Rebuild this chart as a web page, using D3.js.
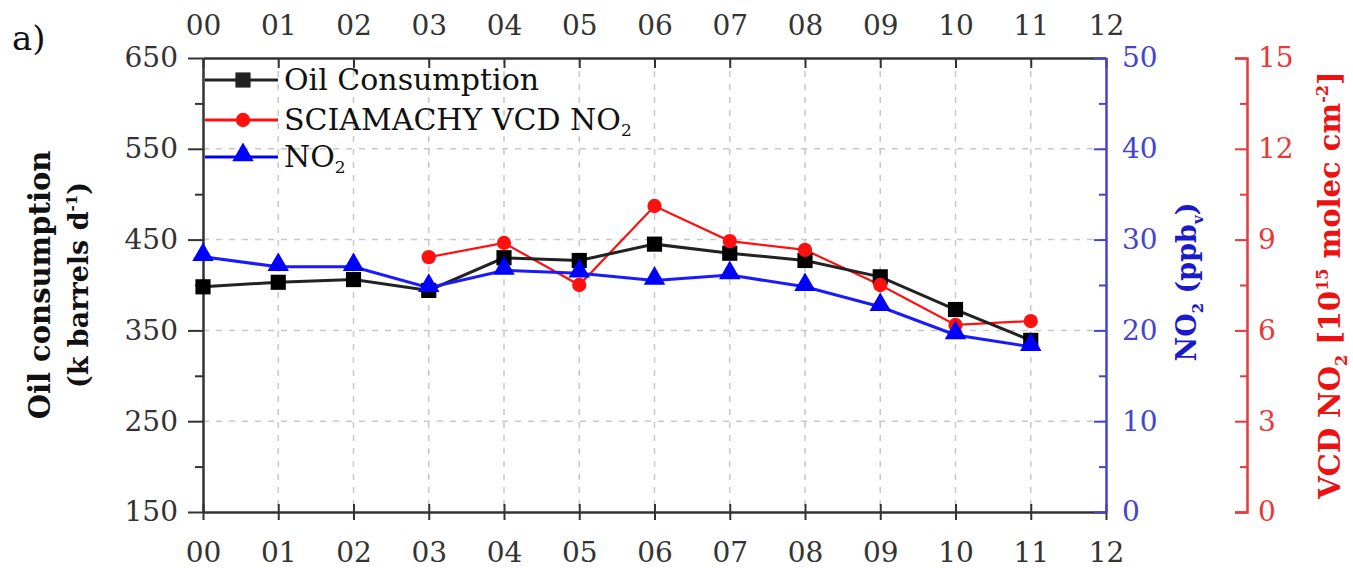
<!DOCTYPE html>
<html>
<head>
<meta charset="utf-8">
<script src="https://cdn.jsdelivr.net/npm/d3@7"></script>
<style>
  body { margin: 0; background: #fff; }
  svg text { font-family: "DejaVu Serif", serif; }
</style>
</head>
<body>
<svg id="chart" width="1353" height="568"></svg>
<script>
// data (year 2000 = 0)
var years = [0, 1, 2, 3, 4, 5, 6, 7, 8, 9, 10, 11];
var oil = [398, 403, 406, 394, 430, 427, 445, 435, 427, 409, 373, 339];
var no2 = [28.1, 27.0, 27.0, 24.7, 26.6, 26.3, 25.5, 26.1, 24.8, 22.6, 19.5, 18.2];
var vcdYears = [3, 4, 5, 6, 7, 8, 9, 10, 11];
var vcd = [8.42, 8.89, 7.50, 10.11, 8.95, 8.66, 7.50, 6.18, 6.31];

var xTicks = d3.range(0, 13);
var oilTicks = [150, 250, 350, 450, 550, 650];
var no2Ticks = [0, 10, 20, 30, 40, 50];
var vcdTicks = [0, 3, 6, 9, 12, 15];

var svg = d3.select("#chart");
var pL = 203, pR = 1106, pT = 58, pB = 512;
var redX = 1247;
var fs = 28;

var blk = "#222", blue = "#0000ff", red = "#ff1010";
var blueAx = "#4444cc", redAx = "#e83838";

// scales
var x = d3.scaleLinear().domain([0, 12]).range([pL, pR]);
var yOil = d3.scaleLinear().domain([150, 650]).range([pB, pT]);
var yNo2 = d3.scaleLinear().domain([0, 50]).range([pB, pT]);
var yVcd = d3.scaleLinear().domain([0, 15]).range([pB, pT]);

// grid
var grid = svg.append("g").attr("stroke", "#c8c8c8").attr("stroke-width", 1.5).attr("stroke-dasharray", "6,7");
grid.selectAll("line.v").data(xTicks.slice(1, 12)).enter().append("line")
  .attr("x1", d => x(d)).attr("x2", d => x(d)).attr("y1", pT).attr("y2", pB);
grid.selectAll("line.h").data(oilTicks.slice(1, 5)).enter().append("line")
  .attr("x1", pL).attr("x2", pR).attr("y1", d => yOil(d)).attr("y2", d => yOil(d));

function styleAxis(g, col) {
  g.select(".domain").attr("stroke", col).attr("stroke-width", 2.5);
  g.selectAll(".tick line").attr("stroke", col).attr("stroke-width", 2);
  g.selectAll(".tick text").attr("fill", col).style("font-size", fs + "px").style("font-family", "DejaVu Serif");
}
var fmt2 = d3.format("02d");

// left axis
var gl = svg.append("g").attr("transform", "translate(" + pL + ",0)");
gl.call(d3.axisLeft(yOil).tickValues(d3.range(200, 650, 100)).tickSize(8).tickFormat(""));
gl.select(".domain").remove();
var gl2 = svg.append("g").attr("transform", "translate(" + pL + ",0)")
  .call(d3.axisLeft(yOil).tickValues(oilTicks).tickSizeInner(15).tickSizeOuter(0).tickPadding(10));
styleAxis(gl, "#333"); styleAxis(gl2, "#333");

// bottom axis (ticks cross the line)
var gb = svg.append("g").attr("transform", "translate(0," + pB + ")")
  .call(d3.axisBottom(x).tickValues(xTicks).tickSizeInner(8).tickSizeOuter(0).tickPadding(22).tickFormat(fmt2));
gb.selectAll(".tick line").attr("y1", -8);
styleAxis(gb, "#333");

// top axis (ticks inward)
var gt = svg.append("g").attr("transform", "translate(0," + pT + ")")
  .call(d3.axisTop(x).tickValues(xTicks).tickSizeInner(-10).tickSizeOuter(0).tickPadding(23).tickFormat(fmt2));
styleAxis(gt, "#333");

// NO2 axis (blue) on the right edge of the plot
var gn = svg.append("g").attr("transform", "translate(" + pR + ",0)");
gn.call(d3.axisRight(yNo2).tickValues(d3.range(5, 50, 10)).tickSize(-7).tickFormat(""));
gn.select(".domain").remove();
var gn2 = svg.append("g").attr("transform", "translate(" + pR + ",0)")
  .call(d3.axisRight(yNo2).tickValues(no2Ticks).tickSizeInner(-12).tickSizeOuter(0).tickPadding(16));
styleAxis(gn, blueAx); styleAxis(gn2, blueAx);

// VCD axis (red), offset
var gv = svg.append("g").attr("transform", "translate(" + redX + ",0)");
gv.call(d3.axisRight(yVcd).tickValues(d3.range(1.5, 15, 3)).tickSize(-7).tickFormat(""));
gv.select(".domain").remove();
var gv2 = svg.append("g").attr("transform", "translate(" + redX + ",0)")
  .call(d3.axisRight(yVcd).tickValues(vcdTicks).tickSizeInner(-12).tickSizeOuter(-12).tickPadding(11));
styleAxis(gv, redAx); styleAxis(gv2, redAx);

// series
var lineOil = d3.line().x((d, i) => x(years[i])).y(d => yOil(d));
var lineNo2 = d3.line().x((d, i) => x(years[i])).y(d => yNo2(d));
var lineVcd = d3.line().x((d, i) => x(vcdYears[i])).y(d => yVcd(d));

svg.append("path").datum(vcd).attr("d", lineVcd).attr("fill", "none").attr("stroke", red).attr("stroke-width", 2.2);
svg.append("path").datum(oil).attr("d", lineOil).attr("fill", "none").attr("stroke", blk).attr("stroke-width", 3);
svg.append("path").datum(no2).attr("d", lineNo2).attr("fill", "none").attr("stroke", "#1a1aff").attr("stroke-width", 3);

var sq = d3.symbol().type(d3.symbolSquare).size(230);
var ci = d3.symbol().type(d3.symbolCircle).size(160);
var tr = d3.symbol().type(d3.symbolTriangle).size(200);

svg.selectAll("path.oil").data(oil).enter().append("path").attr("class", "oil")
  .attr("d", sq).attr("fill", "#000")
  .attr("transform", (d, i) => "translate(" + x(years[i]) + "," + yOil(d) + ")");
svg.selectAll("path.vcd").data(vcd).enter().append("path").attr("class", "vcd")
  .attr("d", ci).attr("fill", red)
  .attr("transform", (d, i) => "translate(" + x(vcdYears[i]) + "," + yVcd(d) + ")");
svg.selectAll("path.no2").data(no2).enter().append("path").attr("class", "no2")
  .attr("d", tr).attr("fill", blue)
  .attr("transform", (d, i) => "translate(" + x(years[i]) + "," + (yNo2(d) - 2) + ")");

// legend
var legend = [
  {label: "Oil Consumption", col: blk, sym: sq, y: 80, sub: null},
  {label: "SCIAMACHY VCD NO", col: red, sym: ci, y: 120, sub: "2"},
  {label: "NO", col: blue, sym: tr, y: 157, sub: "2"}
];
legend.forEach(function(l) {
  svg.append("line").attr("x1", pL + 2).attr("x2", 278).attr("y1", l.y).attr("y2", l.y)
    .attr("stroke", l.col).attr("stroke-width", 3);
  svg.append("path").attr("d", l.sym).attr("fill", l.col)
    .attr("transform", "translate(243," + (l.sym === tr ? l.y - 2 : l.y) + ")");
  var t = svg.append("text").attr("x", 284).attr("y", l.y + 10).style("font-size", "30px").attr("fill", "#111").text(l.label);
  if (l.sub) t.append("tspan").attr("dy", 6).style("font-size", "17px").text(l.sub);
});

// axis titles
var t1 = svg.append("text").attr("transform", "translate(50,285) rotate(-90)").attr("text-anchor", "middle")
  .style("font-size", "29px").style("font-weight", "bold").attr("fill", "#111").text("Oil consumption");
var t2 = svg.append("text").attr("transform", "translate(88,285) rotate(-90)").attr("text-anchor", "middle")
  .style("font-size", "27px").style("font-weight", "bold").attr("fill", "#111");
t2.append("tspan").text("(k barrels d");
t2.append("tspan").attr("dy", -11).style("font-size", "15px").text("-1");
t2.append("tspan").attr("dy", 11).text(")");

var t3 = svg.append("text").attr("transform", "translate(1196,282) rotate(-90)").attr("text-anchor", "middle")
  .style("font-size", "27px").style("font-weight", "bold").attr("fill", "#1a1acc");
t3.append("tspan").text("NO");
t3.append("tspan").attr("dy", 7).style("font-size", "15px").text("2");
t3.append("tspan").attr("dy", -7).text(" (ppb");
t3.append("tspan").attr("dy", 7).style("font-size", "15px").text("v");
t3.append("tspan").attr("dy", -7).text(")");

var t4 = svg.append("text").attr("transform", "translate(1340,285) rotate(-90)").attr("text-anchor", "middle")
  .style("font-size", "29px").style("font-weight", "bold").attr("fill", "#ee1111");
t4.append("tspan").text("VCD NO");
t4.append("tspan").attr("dy", 7).style("font-size", "16px").text("2");
t4.append("tspan").attr("dy", -7).text(" [10");
t4.append("tspan").attr("dy", -12).style("font-size", "16px").text("15");
t4.append("tspan").attr("dy", 12).text(" molec cm");
t4.append("tspan").attr("dy", -12).style("font-size", "16px").text("-2");
t4.append("tspan").attr("dy", 12).text("]");

// panel label
svg.append("text").attr("x", 12).attr("y", 50).style("font-size", "34px").attr("fill", "#111").text("a)");
</script>
</body>
</html>
